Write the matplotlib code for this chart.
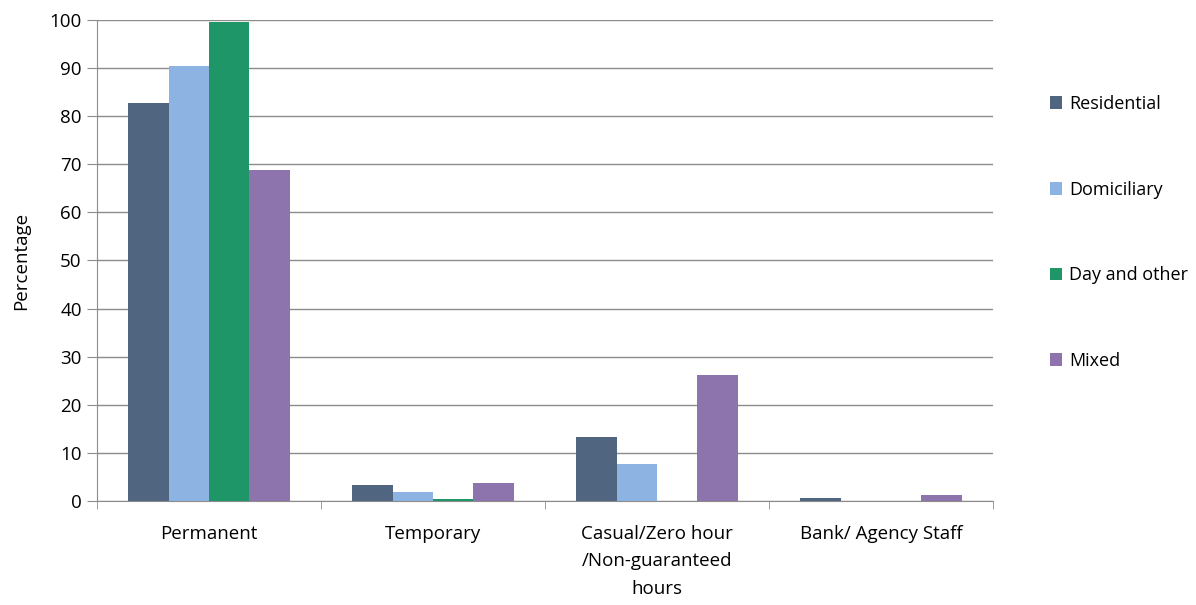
import numpy as np
import matplotlib.pyplot as plt

categories = ["Permanent", "Temporary", "Casual/Zero hour\n/Non-guaranteed\nhours", "Bank/ Agency Staff"]
series_names = ["Residential", "Domiciliary", "Day and other", "Mixed"]
residential = [82.8, 3.3, 13.2, 0.55]
domiciliary = [90.4, 1.8, 7.6, 0.0]
day_other = [99.6, 0.3, 0.0, 0.0]
mixed = [68.8, 3.7, 26.2, 1.2]
colors = ["#4f6580", "#8db3e2", "#1f9668", "#8e74ac"]

plt.rcParams['font.family'] = ['Open Sans', 'DejaVu Sans']
fs = 13.5

fig = plt.figure(figsize=(11.96, 6.05), dpi=100)
ax = fig.add_axes([0.0811, 0.172, 0.7492, 0.795])

x = np.arange(len(categories))
width = 0.18
for i, (name, vals) in enumerate(zip(series_names, [residential, domiciliary, day_other, mixed])):
    ax.bar(x + (i - 1.5) * width, vals, width, color=colors[i], label=name, zorder=3)

ax.set_xlim(-0.5, len(categories) - 0.5)
ax.set_ylim(0, 100)
ax.set_yticks(range(0, 101, 10))
ax.yaxis.grid(True, color="#8c8c8c", linewidth=1, zorder=0)
ax.set_xticks(x)
ax.set_xticklabels(categories, fontsize=fs, linespacing=1.68)
ax.tick_params(axis='x', length=0, pad=17)
ax.set_xticks(np.arange(-0.5, len(categories), 1), minor=True)
ax.tick_params(axis='x', which='minor', length=6, color="#8c8c8c")
ax.tick_params(axis='y', labelsize=fs, length=7, color="#8c8c8c", direction='out', pad=4)
for s in ['top', 'right']:
    ax.spines[s].set_visible(False)
for s in ['left', 'bottom']:
    ax.spines[s].set_color("#8c8c8c")
ax.set_ylabel("Percentage", fontsize=fs, labelpad=14)

ax.legend(loc='upper left', bbox_to_anchor=(1.045, 0.878), frameon=False, fontsize=13,
          labelspacing=3.75, handlelength=0.7, handleheight=0.7, handletextpad=0.4)

fig.savefig("out.png", dpi=100)
